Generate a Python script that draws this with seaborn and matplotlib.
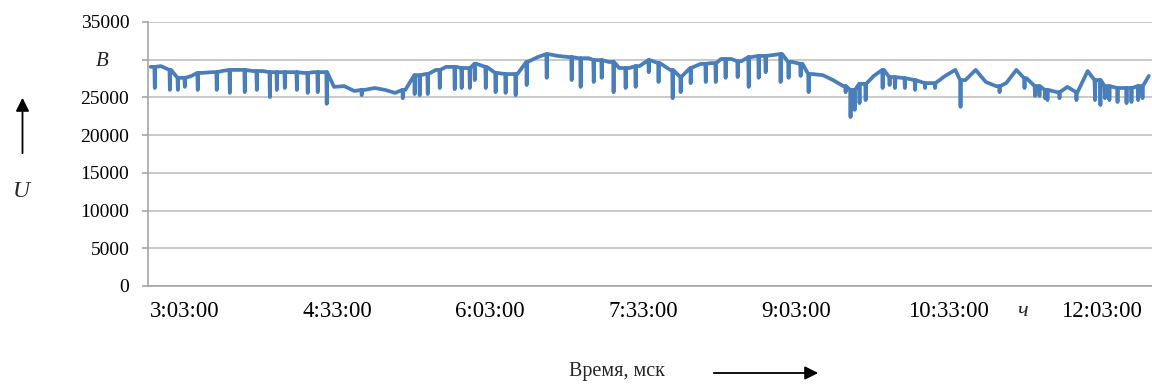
import numpy as np
import pandas as pd
import seaborn as sns
from matplotlib import pyplot as plt

# Voltage readings, minutes after midnight
base_start = 163  # 2:43
base_step = 6
base_volts = [
    29050, 29150, 28650, 27600, 27850, 28250, 28350, 28500, 28650, 28650,
    28500, 28500, 28350, 28350, 28350, 28250, 28350, 28350, 26400, 26500,
    25850, 26000, 26250, 26000, 25600, 26000, 27950, 28100, 28650, 29050,
    29050, 28900, 29450, 29050, 28250, 28100, 28100, 29700, 30350, 30750,
    30500, 30350, 30200, 30200, 29950, 29700, 28900, 28900, 29150, 29950,
    29550, 28650, 27700, 28900, 29450, 29550, 30100, 30100, 29800, 30350,
    30500, 30600, 30750, 29700, 29450, 28100, 27950, 27300, 26500, 26000,
    26800, 27850, 28650, 27700, 27550, 27300, 26900, 26900, 27850, 28650,
    27300, 28650, 27050, 26500, 26900, 28650, 27550, 26500, 26000, 25700,
    26400, 25700, 28500, 27300, 26500, 26250, 26250, 26500, 27850,
]

# short voltage drops (time in minutes, lowest value)
spike_times = [
    165.4, 174.3, 179.0, 183.1, 190.7, 201.9, 209.6, 218.4, 225.5, 233.2,
    237.3, 242.0, 249.1, 255.5, 261.4, 266.7, 287.3, 311.5, 318.5, 321.5,
    326.2, 333.3, 342.1, 346.2, 351.0, 353.9, 360.4, 366.2, 372.1, 378.0,
    384.5, 396.3, 411.0, 416.3, 424.0, 428.7, 435.7, 442.8, 448.7, 456.4,
    462.2, 470.5, 475.2, 481.1, 490.0, 495.9, 501.7, 508.8, 515.3, 521.2,
    525.3, 534.1, 538.8, 545.9, 550.6, 572.4, 575.3, 577.7, 580.6, 584.2,
    594.2, 598.3, 601.5, 607.3, 613.3, 619.2, 625.1, 640.1, 663.1, 677.8,
    684.0, 686.6, 689.9, 691.3, 698.4, 708.4, 719.3, 722.5, 725.2, 727.8,
    732.6, 737.9, 740.8, 744.7, 747.3,
]
spike_volts = [
    26250, 26000, 26000, 26400, 26000, 26000, 25600, 25700, 26000, 25050,
    26000, 26250, 26000, 25600, 25700, 24150, 25300, 24900, 25450, 25300,
    25450, 26250, 26100, 26250, 26250, 27300, 26250, 25700, 25600, 25300,
    26650, 27600, 27300, 26400, 27050, 27600, 25700, 26250, 26400, 28350,
    27050, 24900, 25700, 26900, 27050, 27050, 27600, 27700, 26400, 27600,
    28350, 27050, 27600, 27850, 25700, 25700, 22400, 23350, 24250, 24650,
    26250, 26650, 26250, 26250, 26000, 26250, 26250, 23750, 25700, 26250,
    25200, 25200, 24900, 24650, 24900, 24650, 24650, 24000, 24900, 24650,
    24400, 24250, 24400, 24650, 24900,
]

tick_labels = ["3:03:00", "4:33:00", "6:03:00", "7:33:00", "9:03:00", "10:33:00", "12:03:00"]
y_ticks = [0, 5000, 10000, 15000, 20000, 25000, 30000, 35000]
y_labels = ["0", "5000", "10000", "15000", "20000", "25000", "", "35000"]


def main():
    t_base = base_start + base_step * np.arange(len(base_volts))
    rows = list(zip(t_base, base_volts))
    for t, v in zip(spike_times, spike_volts):
        i = int(round((t - base_start) / base_step))
        i = min(max(i, 0), len(base_volts) - 1)
        b = base_volts[i]
        rows += [(t - 0.25, b), (t, v), (t + 0.25, b)]
    df = pd.DataFrame(rows, columns=["t", "u"]).sort_values("t")

    sns.set_theme(style="white")
    plt.rcParams["font.family"] = ["Liberation Serif", "DejaVu Serif"]

    fig = plt.figure(figsize=(11.52, 3.85), dpi=100)
    ax = fig.add_axes([148 / 1152, 1 - 286 / 385, 1 - 148 / 1152, 264 / 385])

    sns.lineplot(data=df, x="t", y="u", ax=ax, estimator=None, sort=False,
                 color="#4A7EBB", linewidth=2.7)

    tick_pos = [int(s.split(":")[0]) * 60 + int(s.split(":")[1]) for s in tick_labels]
    ax.set_xticks(tick_pos, tick_labels)
    ax.set_xlim(161.4, 752.9)
    ax.set_yticks(y_ticks, y_labels)
    ax.set_ylim(0, 35000)
    ax.set_xlabel("")
    ax.set_ylabel("")

    ax.grid(axis="y", color="#C0C0C0", linewidth=1.2)
    ax.grid(axis="x", visible=False)
    for side in ["top", "right"]:
        ax.spines[side].set_visible(False)
    for side in ["left", "bottom"]:
        ax.spines[side].set_color("#A6A6A6")
        ax.spines[side].set_linewidth(1.2)
    ax.tick_params(axis="y", length=4.5, width=1.2, color="#A6A6A6", pad=9,
                   labelsize=14, labelcolor="black", left=True)
    ax.tick_params(axis="x", length=0, pad=11, labelsize=16.5, labelcolor="black")

    # axis captions
    fig.text(102.5 / 1152, 1 - 62 / 385, "B", fontsize=15, fontstyle="italic",
             ha="center", va="center")
    fig.text(21 / 1152, 1 - 192 / 385, "U", fontsize=17, fontstyle="italic",
             ha="center", va="center")
    fig.text(1023 / 1152, 1 - 311 / 385, "ч", fontsize=16, fontstyle="italic",
             ha="center", va="center")
    fig.text(616.5 / 1152, 1 - 376 / 385, "Время, мск", fontsize=14.5,
             ha="center", va="baseline")
    ax.annotate("", xy=(22.5 / 1152, 1 - 95 / 385), xytext=(22.5 / 1152, 1 - 156 / 385),
                xycoords="figure fraction", textcoords="figure fraction",
                arrowprops=dict(arrowstyle="-|>", color="black", lw=1.3, mutation_scale=20))
    ax.annotate("", xy=(821 / 1152, 1 - 373 / 385), xytext=(711 / 1152, 1 - 373 / 385),
                xycoords="figure fraction", textcoords="figure fraction",
                arrowprops=dict(arrowstyle="-|>", color="black", lw=1.3, mutation_scale=20))

    fig.savefig("out.png", dpi=100)
    plt.close(fig)


if __name__ == "__main__":
    main()
